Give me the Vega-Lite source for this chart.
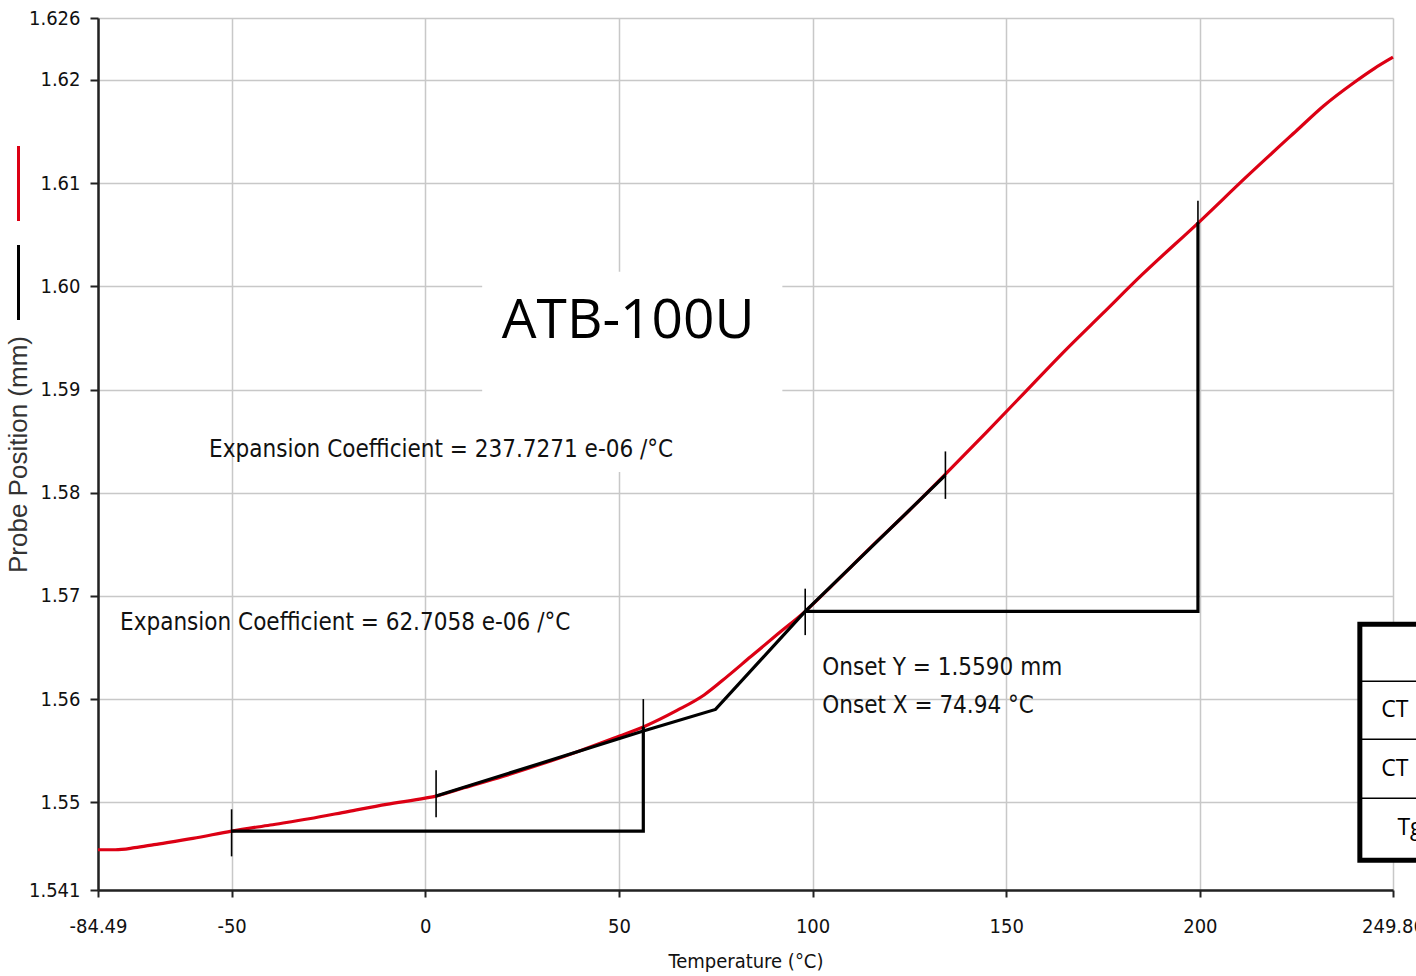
{
  "$schema": "https://vega.github.io/schema/vega-lite/v6.json",
  "width": 1295,
  "height": 872,
  "autosize": {"type": "none"},
  "padding": {"left": 98, "top": 18, "right": 23, "bottom": 86},
  "background": "white",
  "config": {
    "view": {"stroke": null},
    "font": "DejaVu Sans Condensed, sans-serif",
    "axis": {
      "gridColor": "#c8c8c8",
      "gridWidth": 1.5,
      "domainColor": "#222222",
      "domainWidth": 2.5,
      "tickColor": "#222222",
      "tickWidth": 2,
      "tickSize": 8,
      "labelFont": "DejaVu Sans Condensed, sans-serif",
      "labelFontSize": 20,
      "labelColor": "#111111",
      "labelOverlap": false,
      "labelFlush": false,
      "titleFont": "DejaVu Sans Condensed, sans-serif",
      "titleFontWeight": "normal",
      "titleColor": "#111111"
    }
  },
  "datasets": {
    "curve": [
      {"t": -84.49, "p": 1.5454}, {"t": -80, "p": 1.5454}, {"t": -75, "p": 1.5456},
      {"t": -70, "p": 1.5459}, {"t": -60, "p": 1.5465}, {"t": -50, "p": 1.5472},
      {"t": -40, "p": 1.5478}, {"t": -30, "p": 1.5484}, {"t": -20, "p": 1.5491},
      {"t": -10, "p": 1.5498}, {"t": 0, "p": 1.5504}, {"t": 2.8, "p": 1.5506},
      {"t": 10, "p": 1.5514}, {"t": 20, "p": 1.5525}, {"t": 30, "p": 1.5537},
      {"t": 40, "p": 1.555}, {"t": 50, "p": 1.5564}, {"t": 56.3, "p": 1.5573},
      {"t": 65, "p": 1.5589}, {"t": 72, "p": 1.5604}, {"t": 78, "p": 1.5622},
      {"t": 84, "p": 1.5641}, {"t": 91, "p": 1.5663}, {"t": 98.1, "p": 1.5685},
      {"t": 105, "p": 1.571}, {"t": 115, "p": 1.5747}, {"t": 125, "p": 1.5783},
      {"t": 134.3, "p": 1.5818}, {"t": 145, "p": 1.5859}, {"t": 155, "p": 1.5898},
      {"t": 165, "p": 1.5937}, {"t": 175, "p": 1.5974}, {"t": 185, "p": 1.6011},
      {"t": 200, "p": 1.6063}, {"t": 212, "p": 1.6106}, {"t": 225, "p": 1.6151},
      {"t": 232, "p": 1.6175}, {"t": 240, "p": 1.6198}, {"t": 245, "p": 1.6211},
      {"t": 249.86, "p": 1.6222}
    ],
    "lines": [
      {"g": "box1", "o": 1, "t": -50, "p": 1.5472},
      {"g": "box1", "o": 2, "t": 56.3, "p": 1.5472},
      {"g": "box1", "o": 3, "t": 56.3, "p": 1.5573},
      {"g": "box2", "o": 1, "t": 98.1, "p": 1.5685},
      {"g": "box2", "o": 2, "t": 199.5, "p": 1.5685},
      {"g": "box2", "o": 3, "t": 199.5, "p": 1.6062},
      {"g": "tan", "o": 1, "t": 2.8, "p": 1.5506},
      {"g": "tan", "o": 2, "t": 56.3, "p": 1.5569},
      {"g": "tan", "o": 3, "t": 74.94, "p": 1.559},
      {"g": "tan", "o": 4, "t": 98.1, "p": 1.5685},
      {"g": "tan", "o": 5, "t": 134.3, "p": 1.5817}
    ],
    "ticks": [
      {"t": -50, "p": 1.54476, "p2": 1.54932},
      {"t": 2.8, "p": 1.54854, "p2": 1.55311},
      {"t": 56.3, "p": 1.5552, "p2": 1.56},
      {"t": 98.1, "p": 1.5662, "p2": 1.5707},
      {"t": 134.3, "p": 1.5794, "p2": 1.584},
      {"t": 199.5, "p": 1.6037, "p2": 1.6083}
    ],
    "notes": [
      {"t": -55.8, "p": 1.5841, "label": "Expansion Coefficient = 237.7271 e-06 /°C"},
      {"t": -78.8, "p": 1.5674, "label": "Expansion Coefficient = 62.7058 e-06 /°C"},
      {"t": 102.5, "p": 1.563, "label": "Onset Y = 1.5590 mm"},
      {"t": 102.5, "p": 1.5593, "label": "Onset X = 74.94 °C"}
    ],
    "titlebox": [{"t": 14.7, "t2": 92.2, "p": 1.582, "p2": 1.6014}],
    "title": [{"t": 52.4, "p": 1.5966, "label": "ATB-100U"}],
    "table": [{"t": 241.3, "t2": 275, "p": 1.54438, "p2": 1.56725}],
    "tablerows": [{"t": 241.3, "t2": 275, "p": 1.56172}, {"t": 241.3, "t2": 275, "p": 1.5561}, {"t": 241.3, "t2": 275, "p": 1.55039}],
    "tabletext": [
      {"t": 246.8, "p": 1.5589, "label": "CT"},
      {"t": 246.8, "p": 1.5532, "label": "CT"},
      {"t": 251.0, "p": 1.5475, "label": "Tg"}
    ]
  },
  "encoding": {
    "x": {
      "field": "t",
      "type": "quantitative",
      "scale": {"domain": [-84.49, 249.86], "nice": false, "zero": false},
      "axis": {
        "values": [-84.49, -50, 0, 50, 100, 150, 200, 249.86],
        "labelExpr": "'' + datum.value",
        "labelPadding": 19,
        "tickSize": 7,
        "title": "Temperature (°C)",
        "titleFontSize": 20,
        "titlePadding": 15
      }
    },
    "y": {
      "field": "p",
      "type": "quantitative",
      "scale": {"domain": [1.5415, 1.626], "nice": false, "zero": false},
      "axis": {
        "values": [1.5415, 1.55, 1.56, 1.57, 1.58, 1.59, 1.6, 1.61, 1.62, 1.626],
        "labelExpr": "datum.value < 1.545 ? '1.541' : datum.value > 1.625 ? '1.626' : format(datum.value, '.2f')",
        "labelPadding": 10,
        "title": "Probe Position (mm)",
        "titleFont": "Liberation Sans, Arial, sans-serif",
        "titleFontSize": 26,
        "titleColor": "#333333",
        "titleX": -80,
        "titleY": 436,
        "titleAngle": -90,
        "titleAlign": "center",
        "titleBaseline": "middle"
      }
    }
  },
  "layer": [
    {
      "data": {"name": "titlebox"},
      "mark": {"type": "rect", "color": "white"},
      "encoding": {"x2": {"field": "t2"}, "y2": {"field": "p2"}}
    },
    {
      "data": {"name": "curve"},
      "mark": {"type": "line", "strokeWidth": 3.2, "interpolate": "monotone"},
      "encoding": {
        "color": {
          "datum": "Probe Position",
          "scale": {"domain": ["Probe Position", "Analysis"], "range": ["#dc0014", "#000000"]},
          "legend": {
            "orient": "none",
            "legendX": -118.5,
            "legendY": 126.5,
            "title": null,
            "symbolType": "M0,-1L0,1",
            "symbolSize": 5625,
            "symbolStrokeWidth": 3,
            "labelExpr": "''",
            "labelLimit": 1,
            "rowPadding": 11,
            "padding": 0,
            "offset": 0
          }
        }
      }
    },
    {
      "data": {"name": "lines"},
      "mark": {"type": "line", "strokeWidth": 3.2, "strokeJoin": "miter"},
      "encoding": {
        "detail": {"field": "g"},
        "order": {"field": "o"},
        "color": {"datum": "Analysis"}
      }
    },
    {
      "data": {"name": "ticks"},
      "mark": {"type": "rule", "color": "#000000", "strokeWidth": 1.6},
      "encoding": {"y2": {"field": "p2"}}
    },
    {
      "data": {"name": "notes"},
      "mark": {"type": "text", "align": "left", "baseline": "middle", "fontSize": 24, "color": "#111111", "font": "DejaVu Sans Condensed, sans-serif"},
      "encoding": {"text": {"field": "label"}}
    },
    {
      "data": {"name": "title"},
      "mark": {"type": "text", "align": "center", "baseline": "middle", "fontSize": 55, "color": "#000000", "font": "Open Sans"},
      "encoding": {"text": {"field": "label"}}
    },
    {
      "data": {"name": "table"},
      "mark": {"type": "rect", "fill": "white", "stroke": "black", "strokeWidth": 5},
      "encoding": {"x2": {"field": "t2"}, "y2": {"field": "p2"}}
    },
    {
      "data": {"name": "tablerows"},
      "mark": {"type": "rule", "color": "black", "strokeWidth": 1.5},
      "encoding": {"x2": {"field": "t2"}}
    },
    {
      "data": {"name": "tabletext"},
      "mark": {"type": "text", "align": "left", "baseline": "middle", "fontSize": 23, "color": "#000000", "font": "Open Sans"},
      "encoding": {"text": {"field": "label"}}
    }
  ]
}
